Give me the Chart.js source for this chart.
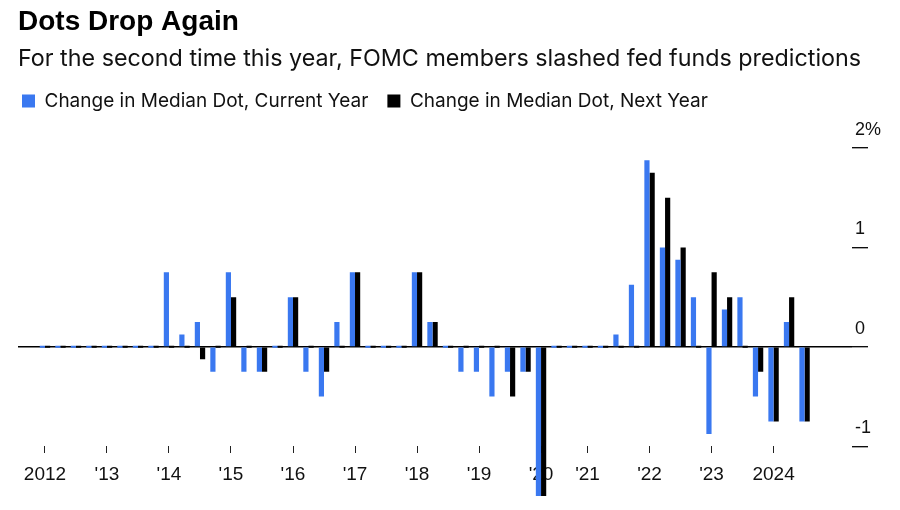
<!DOCTYPE html>
<html>
<head>
<meta charset="utf-8">
<script src="https://cdn.jsdelivr.net/npm/chart.js@4"></script>
<style>
  body { margin: 0; background: #fff; }
</style>
</head>
<body>
<canvas id="myChart" width="900" height="510"></canvas>
<script>
// SEP meetings with a dot plot (no projections in March 2020)
var meetings = [
  'Apr 2012', 'Jun 2012', 'Sep 2012', 'Dec 2012',
  'Mar 2013', 'Jun 2013', 'Sep 2013', 'Dec 2013',
  'Mar 2014', 'Jun 2014', 'Sep 2014', 'Dec 2014',
  'Mar 2015', 'Jun 2015', 'Sep 2015', 'Dec 2015',
  'Mar 2016', 'Jun 2016', 'Sep 2016', 'Dec 2016',
  'Mar 2017', 'Jun 2017', 'Sep 2017', 'Dec 2017',
  'Mar 2018', 'Jun 2018', 'Sep 2018', 'Dec 2018',
  'Mar 2019', 'Jun 2019', 'Sep 2019', 'Dec 2019',
  'Jun 2020', 'Sep 2020', 'Dec 2020',
  'Mar 2021', 'Jun 2021', 'Sep 2021', 'Dec 2021',
  'Mar 2022', 'Jun 2022', 'Sep 2022', 'Dec 2022',
  'Mar 2023', 'Jun 2023', 'Sep 2023', 'Dec 2023',
  'Mar 2024', 'Jun 2024', 'Sep 2024'
];

// change in median dot, percentage points
var currentYear = [
  0, 0, 0, 0,
  0, 0, 0, 0,
  0.75, 0.125, 0.25, -0.25,
  0.75, -0.25, -0.25, 0,
  0.5, -0.25, -0.5, 0.25,
  0.75, 0, 0, 0,
  0.75, 0.25, 0, -0.25,
  -0.25, -0.5, -0.25, -0.25,
  -1.5, 0, 0,
  0, 0, 0.125, 0.625,
  1.875, 1.0, 0.875, 0.5,
  -0.875, 0.375, 0.5, -0.5,
  -0.75, 0.25, -0.75
];
var nextYear = [
  0, 0, 0, 0,
  0, 0, 0, 0,
  0, 0, -0.125, 0,
  0.5, 0, -0.25, 0,
  0.5, 0, -0.25, 0,
  0.75, 0, 0, 0,
  0.75, 0.25, 0, 0,
  0, 0, -0.5, -0.25,
  -1.5, 0, 0,
  0, 0, 0, 0,
  1.75, 1.5, 1.0, 0,
  0.75, 0.5, 0, -0.25,
  -0.75, 0.5, -0.75
];

var yearLabels = ['2012', "'13", "'14", "'15", "'16", "'17", "'18", "'19", "'20", "'21", "'22", "'23", '2024'];
var yTicks = [-1, 0, 1, 2];

var FONT = 'Liberation Sans, Arial, sans-serif';
var TEXT_FONT = 'Inter, Liberation Sans, sans-serif';

// first meeting of each year gets a tick
var yearStarts = [];
meetings.forEach(function(m, i) {
  if (i === 0 || m.slice(-4) !== meetings[i - 1].slice(-4)) yearStarts.push(i);
});

function toPoints(arr) {
  return arr.map(function(v, i) { return { x: i, y: v }; });
}

var ctx = document.getElementById('myChart').getContext('2d');
var myChart = new Chart(ctx, {
  type: 'bar',
  data: {
    datasets: [{
      label: 'Change in Median Dot, Current Year',
      data: toPoints(currentYear),
      backgroundColor: '#3a78f0',
      borderWidth: 0,
      categoryPercentage: 0.67,
      barPercentage: 1,
      minBarLength: 2
    }, {
      label: 'Change in Median Dot, Next Year',
      data: toPoints(nextYear),
      backgroundColor: '#000000',
      borderWidth: 0,
      categoryPercentage: 0.67,
      barPercentage: 1,
      minBarLength: 2
    }]
  },
  options: {
    responsive: false,
    animation: false,
    devicePixelRatio: 1,
    layout: { padding: { left: 18, right: 0, top: 0, bottom: 0 } },
    plugins: {
      title: {
        display: true,
        text: 'Dots Drop Again',
        align: 'start',
        color: '#000',
        font: { family: FONT, size: 28, weight: 'bold' },
        padding: { top: 5, bottom: 0 }
      },
      subtitle: {
        display: true,
        text: 'For the second time this year, FOMC members slashed fed funds predictions',
        align: 'start',
        color: '#111',
        font: { family: TEXT_FONT, size: 23.3 },
        padding: { top: 6, bottom: 0 }
      },
      legend: {
        align: 'start',
        labels: {
          boxWidth: 13,
          boxHeight: 13,
          padding: 19,
          color: '#111',
          font: { family: TEXT_FONT, size: 19 }
        }
      },
      tooltip: { enabled: false }
    },
    scales: {
      x: {
        type: 'linear',
        min: -1.74,
        max: 52.06,
        position: { y: -1 },
        offset: false,
        border: { display: false },
        grid: { offset: false, drawOnChartArea: false, tickLength: 7, tickColor: '#222', tickWidth: 1 },
        afterBuildTicks: function(scale) {
          scale.ticks = yearStarts.map(function(i) { return { value: i }; });
        },
        ticks: {
          autoSkip: false,
          maxRotation: 0,
          padding: 10,
          color: '#111',
          font: { family: FONT, size: 19 },
          callback: function(value) {
            return yearLabels[yearStarts.indexOf(value)];
          }
        }
      },
      y: {
        position: 'right',
        min: -1.64,
        max: 2.275,
        border: { display: false },
        afterFit: function(scale) { scale.width = 48; },
        afterBuildTicks: function(scale) {
          scale.ticks = yTicks.map(function(v) { return { value: v }; });
        },
        grid: {
          color: function(c) { return c.tick && c.tick.value === 0 ? '#000' : 'rgba(0,0,0,0)'; },
          lineWidth: 1.4,
          tickLength: 16,
          tickColor: '#000',
          tickWidth: 1.3
        },
        ticks: {
          padding: -13,
          labelOffset: -18,
          color: '#111',
          font: { family: FONT, size: 18 },
          callback: function(value) { return value === 2 ? '2%' : String(value); }
        }
      }
    }
  },
  plugins: [{
    // keep the legend flush with the title while leaving a wide gap between items
    id: 'legendShift',
    afterLayout: function(chart) { chart.legend.left -= 15; }
  }]
});
</script>
</body>
</html>
